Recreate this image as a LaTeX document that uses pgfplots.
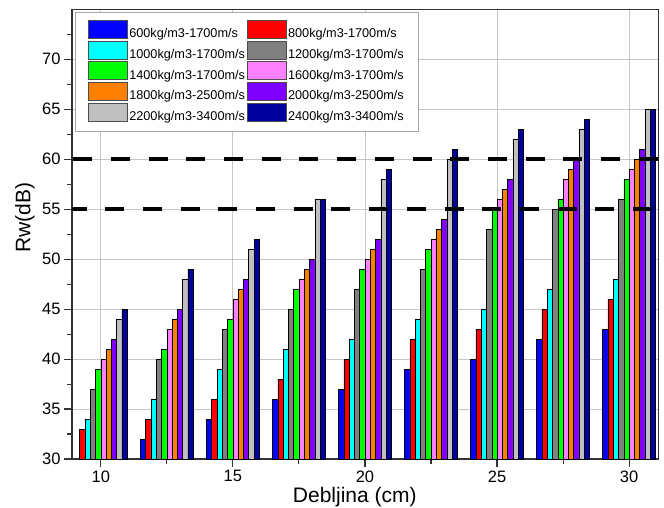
\documentclass[border=0pt]{standalone}
\usepackage{pgfplots}
\pgfplotsset{compat=1.18}
\usepackage{fontspec}
\setmainfont{Liberation Sans}
\definecolor{c1}{HTML}{0000FF}
\definecolor{c2}{HTML}{FF0000}
\definecolor{c3}{HTML}{00FFFF}
\definecolor{c4}{HTML}{808080}
\definecolor{c5}{HTML}{00FF00}
\definecolor{c6}{HTML}{FF80FF}
\definecolor{c7}{HTML}{FF8000}
\definecolor{c8}{HTML}{8000FF}
\definecolor{c9}{HTML}{C0C0C0}
\definecolor{c10}{HTML}{0000A0}
\begin{document}
\begin{tikzpicture}
\useasboundingbox (0,0) rectangle (664pt,507pt);
\begin{axis}[
  at={(72pt,48pt)}, anchor=south west,
  scale only axis, width=586.7pt, height=449.7pt,
  xmin=8.91, xmax=31.12, ymin=30, ymax=75,
  xtick={10,15,20,25,30}, minor xtick={12.5,17.5,22.5,27.5},
  ytick={30,35,...,70}, minor ytick={32.5,37.5,...,72.5},
  tick align=outside, xtick pos=bottom, ytick pos=left,
  major tick length=8pt, minor tick length=5pt,
  grid=major, grid style={draw=gray!45, line width=0.8pt},
  axis line style={draw=black!80, line width=1.1pt},
  tick style={black!80, line width=1.1pt},
  /pgf/number format/assume math mode=true,
  ticklabel style={font=\fontsize{16.5}{18}\selectfont},
  xlabel={Debljina (cm)}, ylabel={Rw(dB)},
  label style={font=\fontsize{21}{24}\selectfont},
  xlabel style={at={(axis description cs:0.482,0)}, anchor=base, yshift=-43.7pt},
  ylabel style={at={(axis description cs:-0.0801,0.536)}, anchor=center},
  bar width=0.2,
  legend columns=2, legend cell align=left,
  legend style={at={(axis description cs:0.0051,0.9933)}, anchor=north west,
    draw=gray!70, line width=0.8pt, fill=white, inner xsep=12.6pt, inner ysep=7pt,
    font=\fontsize{12.7}{14}\selectfont, nodes={inner sep=1.7pt}, column sep=0pt, row sep=0pt},
  legend image code/.code={\draw[#1, draw=black!70, line width=0.6pt] (0pt,-4.5pt) rectangle (39pt,13.5pt);},
]
\addplot[ybar, bar shift=-0.9, fill=c1, draw=black, line width=0.5pt] coordinates {(12.5,32) (15,34) (17.5,36) (20,37) (22.5,39) (25,40) (27.5,42) (30,43)};
\addlegendentry{600kg/m3-1700m/s}
\addplot[ybar, bar shift=-0.7, fill=c2, draw=black, line width=0.5pt] coordinates {(10,33) (12.5,34) (15,36) (17.5,38) (20,40) (22.5,42) (25,43) (27.5,45) (30,46)};
\addlegendentry{800kg/m3-1700m/s}
\addplot[ybar, bar shift=-0.5, fill=c3, draw=black, line width=0.5pt] coordinates {(10,34) (12.5,36) (15,39) (17.5,41) (20,42) (22.5,44) (25,45) (27.5,47) (30,48)};
\addlegendentry{1000kg/m3-1700m/s}
\addplot[ybar, bar shift=-0.3, fill=c4, draw=black, line width=0.5pt] coordinates {(10,37) (12.5,40) (15,43) (17.5,45) (20,47) (22.5,49) (25,53) (27.5,55) (30,56)};
\addlegendentry{1200kg/m3-1700m/s}
\addplot[ybar, bar shift=-0.1, fill=c5, draw=black, line width=0.5pt] coordinates {(10,39) (12.5,41) (15,44) (17.5,47) (20,49) (22.5,51) (25,55) (27.5,56) (30,58)};
\addlegendentry{1400kg/m3-1700m/s}
\addplot[ybar, bar shift=0.1, fill=c6, draw=black, line width=0.5pt] coordinates {(10,40) (12.5,43) (15,46) (17.5,48) (20,50) (22.5,52) (25,56) (27.5,58) (30,59)};
\addlegendentry{1600kg/m3-1700m/s}
\addplot[ybar, bar shift=0.3, fill=c7, draw=black, line width=0.5pt] coordinates {(10,41) (12.5,44) (15,47) (17.5,49) (20,51) (22.5,53) (25,57) (27.5,59) (30,60)};
\addlegendentry{1800kg/m3-2500m/s}
\addplot[ybar, bar shift=0.5, fill=c8, draw=black, line width=0.5pt] coordinates {(10,42) (12.5,45) (15,48) (17.5,50) (20,52) (22.5,54) (25,58) (27.5,60) (30,61)};
\addlegendentry{2000kg/m3-2500m/s}
\addplot[ybar, bar shift=0.7, fill=c9, draw=black, line width=0.5pt] coordinates {(10,44) (12.5,48) (15,51) (17.5,56) (20,58) (22.5,60) (25,62) (27.5,63) (30,65)};
\addlegendentry{2200kg/m3-3400m/s}
\addplot[ybar, bar shift=0.9, fill=c10, draw=black, line width=0.5pt] coordinates {(10,45) (12.5,49) (15,52) (17.5,56) (20,59) (22.5,61) (25,63) (27.5,64) (30,65)};
\addlegendentry{2400kg/m3-3400m/s}
\addplot[forget plot, black, line width=4pt, dash pattern=on 19pt off 18.7pt, dash phase=4.5pt] coordinates {(8.91,55) (31.12,55)};
\addplot[forget plot, black, line width=4pt, dash pattern=on 19pt off 18.7pt, dash phase=36.5pt] coordinates {(8.91,60) (31.12,60)};
\end{axis}
\end{tikzpicture}
\end{document}
